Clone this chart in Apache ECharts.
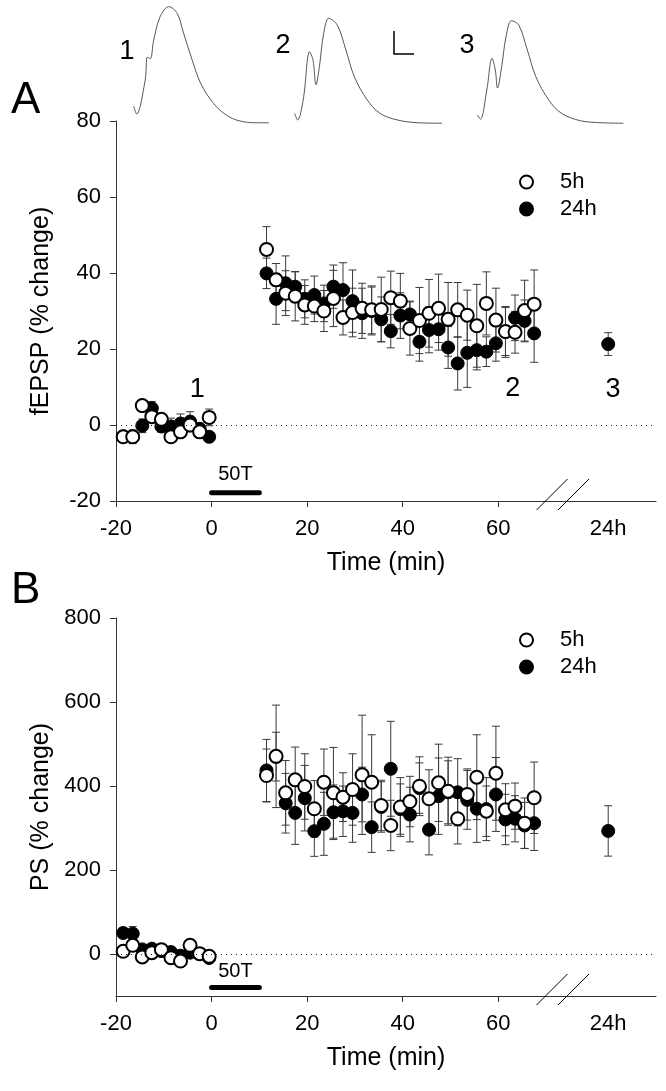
<!DOCTYPE html>
<html><head><meta charset="utf-8">
<script src="https://cdn.jsdelivr.net/npm/echarts@6/dist/echarts.min.js"></script>
<style>html,body{margin:0;padding:0;background:#fff}#c{width:666px;height:1091px}</style>
</head><body><div id="c"></div>
<script>
// ---------- DATA ----------
const timeBase = [-18.5,-16.5,-14.5,-12.5,-10.5,-8.5,-6.5,-4.5,-2.5,-0.5];
const timePost = [11.5,13.5,15.5,17.5,19.5,21.5,23.5,25.5,27.5,29.5,31.5,33.5,35.5,37.5,39.5,41.5,43.5,45.5,47.5,49.5,51.5,53.5,55.5,57.5,59.5,61.5,63.5,65.5,67.5];
const time24h = 83;
const xTickValues = [-20,0,20,40,60];
const xLabelValues = [-20,0,20,40,60,83];
const xLabel24h = '24h';

// Panel A: fEPSP (% change)
const fepsp5hBase = [-3.1,-3.1,5.1,2.2,1.5,-3.1,-1.8,0,-1.8,2.0];
const fepsp5hPost = [46.2,38.2,34.7,33.9,31.6,31.3,30,33.3,28.3,29.6,30.7,30.3,30.4,33.5,32.6,25.4,27.5,29.4,30.7,27.8,30.3,28.9,26.1,32,27.6,24.6,24.4,30.1,31.8];
const fepsp5hErrBase = [1.5,1.8,1.5,1.2,1.2,1.5,1.5,1.8,1.5,2.2];
const fepsp5hErrPost = [6,4.3,5.9,6.5,5.1,4.1,5.4,7.4,4.6,6.4,6.6,6.3,8.5,7,7.3,7,8.7,8.9,9,9.7,7.2,6.6,10.9,8.3,8.4,6.3,5.5,8,9];
const fepsp24hBase = [-3,-3,-0.2,4.4,-0.4,-0.4,0.4,0.9,-1,-3.1];
const fepsp24hPost = [39.9,33.2,37.3,36.4,33.2,34.2,32,36.4,35.5,32.6,29.4,30,27.8,24.7,28.8,29.1,21.9,25,25.2,20.4,16.2,19,19.7,19.3,21.5,24.5,28.2,27.4,24.1];
const fepsp24hErrBase = [1.5,1.5,1.8,1.8,1.5,2.2,2.5,2.6,1.5,1.2];
const fepsp24hErrPost = [4,6.7,7.2,3.9,5,5,4.8,5.7,7.2,8.2,6.6,6.3,5.9,4.4,6,3.5,5.1,6,5.5,5.5,7,9.1,5.2,3.9,4.7,6.7,6,5.5,7.6];
const fepsp24hLate = 21.3, fepsp24hLateErr = 3;

// Panel B: PS (% change)
const ps5hBase = [6.4,20.7,-7,3.2,10.3,-8.8,-16.8,20.7,0.8,-5.6];
const ps5hPost = [425,470.6,383.8,414.7,398.8,345.8,409,383.8,373.4,391.7,426.6,409,353.6,306,350,363,399.5,369.6,407.6,387.6,322,379.8,421,340,430.4,343.4,352,311.5,372];
const ps5hErrBase = [6,8,6,6,8,6,6,8,6,6];
const ps5hErrPost = [63,122,77,78,78,67,79,108,58,85,142,113,60,60,70,60,70,69,92,81,60,61,101,60,112,62,55,60,85];
const ps24hBase = [50,48.5,11,12.6,7,4.6,-4,3.2,0,-9.5];
const ps24hPost = [437,470,359,336,371,292.5,310,337.5,339.8,336,379.8,302,350,441,345,332,395,296,375.8,385,385,367,345.8,345,379.8,320.3,322,306,311.5];
const ps24hErrBase = [12,17,8,8,8,8,8,8,8,8];
const ps24hErrPost = [74,58,71,75,78,60,75,65,60,70,65,60,60,113,60,65,60,60,91,75,80,70,80,75,88,60,55,55,65];
const ps24hLate = 293, ps24hLateErr = 60;

// Example traces (time ms, amplitude mV)
const trace1 = [[0,0.77],[0.29,0.41],[1.15,1.95],[1.36,2.99],[1.66,2.92],[2.0,3.77],[2.64,4.83],[3.5,5.29],[4.35,4.98],[4.99,4.08],[5.85,2.86],[6.7,1.8],[7.98,0.89],[9.26,0.36],[10.54,0.1],[12.25,0.01],[13.53,0.01]];
const trace2 = [[0,0.44],[0.3,0.14],[0.86,1.05],[1.5,3.24],[1.84,2.86],[2.14,1.73],[2.48,2.56],[2.91,4.08],[3.42,4.76],[4.27,4.45],[5.13,3.32],[5.98,2.1],[7.26,1.05],[8.54,0.44],[10.25,0.14],[12.39,0.01],[14.74,-0.01]];
const trace3 = [[0,0.36],[0.3,0.17],[0.94,1.5],[1.46,2.94],[1.79,2.41],[2.01,1.59],[2.43,2.56],[2.86,3.92],[3.41,4.65],[4.14,4.45],[4.99,3.32],[5.85,2.1],[7.13,1.05],[8.41,0.44],[10.33,0.1],[12.46,0.01],[14.6,-0.01]];

const tetanus = [0, 10];
const tetanusLabel = '50T';

// ---------- BUILD ----------
const FONT = '"Liberation Sans", Arial, Helvetica, sans-serif';
const allT = timeBase.concat(timePost);
function pts(base, post, late) {
  const v = base.concat(post);
  const out = allT.map((t, i) => [t, v[i]]);
  if (late !== undefined) out.push([time24h, late]);
  return out;
}
function errs(base, post, eb, ep, late, lateErr) {
  const v = base.concat(post), e = eb.concat(ep);
  const out = allT.map((t, i) => [t, v[i] - e[i], v[i] + e[i]]);
  if (late !== undefined) out.push([time24h, late - lateErr, late + lateErr]);
  return out;
}
function errRender(params, api) {
  const x = api.value(0);
  const p1 = api.coord([x, api.value(2)]);
  const p2 = api.coord([x, api.value(1)]);
  const w = 4;
  const st = {stroke: '#3a3a3a', lineWidth: 1};
  return {type: 'group', children: [
    {type: 'line', shape: {x1: p1[0], y1: p1[1], x2: p2[0], y2: p2[1]}, style: st},
    {type: 'line', shape: {x1: p1[0]-w, y1: p1[1], x2: p1[0]+w, y2: p1[1]}, style: st},
    {type: 'line', shape: {x1: p2[0]-w, y1: p2[1], x2: p2[0]+w, y2: p2[1]}, style: st}
  ]};
}
const openStyle = {color: '#fff', borderColor: '#000', borderWidth: 2, opacity: 1};
const fillStyle = {color: '#000', borderColor: '#000', borderWidth: 1, opacity: 1};
const axisColor = '#333';
const tickFont = {fontSize: 22, color: '#000', fontFamily: FONT};
const nameFont = {fontSize: 25, color: '#000', fontFamily: FONT};

function xAx(grid) {
  return {gridIndex: grid, type: 'value', min: -20, max: 93,
    axisLine: {show: true, onZero: false, lineStyle: {color: axisColor, width: 1}},
    axisTick: {show: true, customValues: xTickValues, length: 6, lineStyle: {color: axisColor}},
    axisLabel: Object.assign({customValues: xLabelValues, margin: 17,
      formatter: v => (v === time24h ? xLabel24h : String(v))}, tickFont),
    splitLine: {show: false},
    name: 'Time (min)', nameLocation: 'middle', nameGap: 50, nameTextStyle: nameFont};
}
function yAx(grid, min, max, vals, name, gap) {
  return {gridIndex: grid, type: 'value', min: min, max: max,
    axisLine: {show: true, onZero: false, lineStyle: {color: axisColor, width: 1}},
    axisTick: {show: true, customValues: vals, length: 6, lineStyle: {color: axisColor}},
    axisLabel: Object.assign({customValues: vals, margin: 15}, tickFont),
    splitLine: {show: false},
    name: name, nameLocation: 'middle', nameRotate: 90, nameGap: gap, nameTextStyle: nameFont};
}
function traceAxes(grid, xmax) {
  return [
    {gridIndex: grid, type: 'value', min: 0, max: xmax, show: false},
    {gridIndex: grid, type: 'value', min: 0, max: 5.5, show: false}
  ];
}
const tA = traceAxes(2, 15), tB = traceAxes(3, 15), tC = traceAxes(4, 15);

function panelSeries(xi, yi, d5, d24, e5, e24, barY) {
  return [
    {type: 'custom', xAxisIndex: xi, yAxisIndex: yi, renderItem: errRender, data: e24, z: 2, silent: true},
    {type: 'custom', xAxisIndex: xi, yAxisIndex: yi, renderItem: errRender, data: e5, z: 2, silent: true},
    {name: '24h', type: 'scatter', xAxisIndex: xi, yAxisIndex: yi, data: d24, symbol: 'circle', symbolSize: 13, itemStyle: fillStyle, z: 3},
    {name: '5h', type: 'scatter', xAxisIndex: xi, yAxisIndex: yi, data: d5, symbol: 'circle', symbolSize: 13, itemStyle: openStyle, z: 4},
    {type: 'line', xAxisIndex: xi, yAxisIndex: yi, data: tetanus.map(t => [t, barY]), symbol: 'none',
     lineStyle: {color: '#000', width: 5, cap: 'round'}, z: 3, silent: true,
     markLine: {silent: true, symbol: 'none', label: {show: false},
       lineStyle: {color: '#222', width: 1, type: [1, 4]}, data: [{yAxis: 0}]}}
  ];
}

const legendBase = {data: ['5h', '24h'], orient: 'vertical', left: 514, itemWidth: 13, itemHeight: 13, itemGap: 5,
  selectedMode: false, textStyle: {fontSize: 22, color: '#000', fontFamily: FONT, padding: [0, 0, 0, 22]}};

const option = {
  animation: false,
  backgroundColor: '#fff',
  textStyle: {fontFamily: FONT},
  grid: [
    {left: 116, right: 10, top: 121, bottom: 590},
    {left: 116, right: 10, top: 618, bottom: 95},
    {left: 133.7, top: 2, width: 150, height: 121},
    {left: 294.6, top: 2, width: 150, height: 121},
    {left: 477.4, top: 2, width: 150, height: 121}
  ],
  xAxis: [xAx(0), xAx(1), tA[0], tB[0], tC[0]],
  yAxis: [yAx(0, -20, 80, [-20,0,20,40,60,80], 'fEPSP (% change)', 62),
          yAx(1, -100, 800, [0,200,400,600,800], 'PS (% change)', 62), tA[1], tB[1], tC[1]],
  legend: [Object.assign({top: 166}, legendBase), Object.assign({top: 624}, legendBase)],
  series: [].concat(
    panelSeries(0, 0,
      pts(fepsp5hBase, fepsp5hPost),
      pts(fepsp24hBase, fepsp24hPost, fepsp24hLate),
      errs(fepsp5hBase, fepsp5hPost, fepsp5hErrBase, fepsp5hErrPost),
      errs(fepsp24hBase, fepsp24hPost, fepsp24hErrBase, fepsp24hErrPost, fepsp24hLate, fepsp24hLateErr),
      -17.8),
    panelSeries(1, 1,
      pts(ps5hBase, ps5hPost),
      pts(ps24hBase, ps24hPost, ps24hLate),
      errs(ps5hBase, ps5hPost, ps5hErrBase, ps5hErrPost),
      errs(ps24hBase, ps24hPost, ps24hErrBase, ps24hErrPost, ps24hLate, ps24hLateErr),
      -80),
    [trace1, trace2, trace3].map((tr, i) => ({
      type: 'line', xAxisIndex: 2 + i, yAxisIndex: 2 + i, data: tr, symbol: 'none', smooth: 0.35,
      lineStyle: {color: '#555', width: 1}, clip: false, silent: true
    }))
  )
};

const chart = echarts.init(document.getElementById('c'), null, {renderer: 'canvas'});
chart.setOption(option);

// ---------- ANNOTATIONS ----------
function px(grid, p) { return chart.convertToPixel({gridIndex: grid}, p); }
const g = [];
function txt(x, y, s, size, align) {
  g.push({type: 'text', x: x, y: y, style: {text: s, fontSize: size, fontFamily: FONT, fill: '#000',
    textAlign: align || 'center', textVerticalAlign: 'middle'}, z: 10});
}
txt(11, 101, 'A', 44, 'left');
txt(11, 591, 'B', 44, 'left');
txt(127, 52, '1', 27);
txt(283, 46, '2', 27);
txt(467, 46, '3', 27);
// scale bar
g.push({type: 'polyline', shape: {points: [[394, 31], [394, 54], [414, 54]]}, style: {stroke: '#000', lineWidth: 1.5, fill: null}});
// numbers in panel A marking sample times
[[-3, 9.2, '1'], [63, 9.7, '2'], [84, 9.2, '3']].forEach(a => { const p = px(0, [a[0], a[1]]); txt(p[0], p[1], a[2], 27); });
// 50T labels
[[0, -12.9], [1, -42]].forEach(a => { const p = px(a[0], [(tetanus[0] + tetanus[1]) / 2, a[1]]); txt(p[0], p[1], tetanusLabel, 20); });
// axis break marks
[[0, -20], [1, -100]].forEach(a => {
  [68, 72.5].forEach(t => {
    const p = px(a[0], [t, a[1]]);
    g.push({type: 'line', shape: {x1: p[0], y1: p[1] + 9, x2: p[0] + 31, y2: p[1] - 22}, style: {stroke: '#000', lineWidth: 1}, z: 10});
  });
});
chart.setOption({graphic: g});
</script></body></html>
